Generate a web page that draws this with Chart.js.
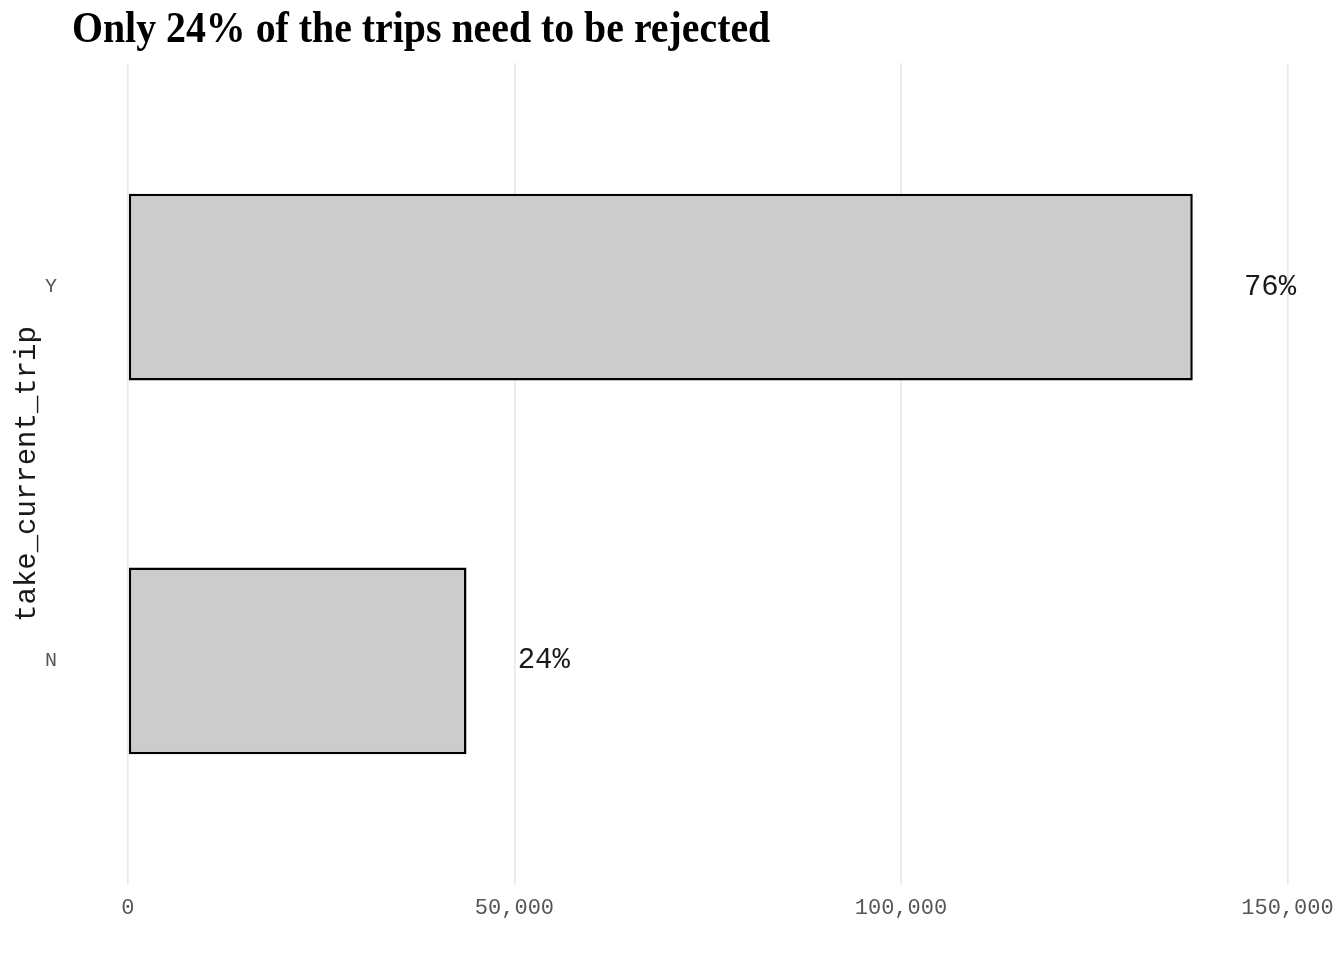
<!DOCTYPE html>
<html>
<head>
<meta charset="utf-8">
<script src="https://cdn.jsdelivr.net/npm/chart.js@4/dist/chart.umd.min.js"></script>
<style>
  html, body { margin: 0; padding: 0; background: #fff; }
  #wrap { width: 1344px; height: 960px; }
</style>
</head>
<body>
<div id="wrap"><canvas id="chart" width="1344" height="960"></canvas></div>
<script>
// --- Data ---
const categories = ['N', 'Y'];            // bottom to top
const tripCounts = [43800, 137750];
const pctLabels = ['24%', '76%'];
const xTicks = [0, 50000, 100000, 150000];
const titleText = 'Only 24% of the trips need to be rejected';
const yTitle = 'take_current_trip';

// --- Helpers ---
const mono = 'Liberation Mono, Courier New, monospace';
const fmt = v => v.toLocaleString('en-US');

// title drawn a bit condensed, like the original
const titlePlugin = {
  id: 'condTitle',
  afterDraw(chart) {
    const ctx = chart.ctx;
    ctx.save();
    ctx.font = 'bold 44px "Liberation Serif", "Times New Roman", serif';
    ctx.fillStyle = '#000';
    ctx.textBaseline = 'alphabetic';
    ctx.translate(chart.chartArea.left + 7, 42);
    ctx.scale(0.905, 1);
    ctx.fillText(titleText, 0, 0);
    ctx.restore();
  }
};

// percentage labels to the right of the bars
const pctPlugin = {
  id: 'pctLabels',
  afterDatasetsDraw(chart) {
    const ctx = chart.ctx, xs = chart.scales.x, ys = chart.scales.y;
    ctx.save();
    ctx.font = '29px ' + mono;
    ctx.fillStyle = '#1a1a1a';
    ctx.textAlign = 'center';
    ctx.textBaseline = 'middle';
    tripCounts.forEach((v, i) => {
      ctx.fillText(pctLabels[i], xs.getPixelForValue(v + 10000), ys.getPixelForValue(i + 1));
    });
    ctx.restore();
  }
};

new Chart(document.getElementById('chart'), {
  type: 'bar',
  data: {
    datasets: [{
      data: tripCounts.map((v, i) => ({ x: v, y: i + 1 })),
      backgroundColor: '#cccccc',
      borderColor: '#000000',
      borderWidth: 2.5,
      borderSkipped: false,
      barPercentage: 0.5,
      categoryPercentage: 1.0
    }]
  },
  options: {
    indexAxis: 'y',
    responsive: false,
    animation: false,
    layout: { padding: { left: 10, right: 10, top: 63, bottom: 0 } },
    plugins: { legend: { display: false }, tooltip: { enabled: false }, title: { display: false } },
    scales: {
      x: {
        type: 'linear',
        min: -8140,
        max: 155555,
        afterBuildTicks: s => { s.ticks = xTicks.map(v => ({ value: v })); },
        afterFit: s => { s.height = 75; },
        grid: { color: '#ebebeb', lineWidth: 1.8, drawTicks: false },
        border: { display: false },
        ticks: { callback: v => fmt(v), color: '#555555', font: { family: mono, size: 22 }, padding: 10, maxRotation: 0 }
      },
      y: {
        type: 'linear',
        offset: false,
        min: 0.4,
        max: 2.6,
        afterBuildTicks: s => { s.ticks = categories.map((c, i) => ({ value: i + 1 })); },
        afterFit: s => { s.width = 55; },
        grid: { display: false, offset: false },
        border: { display: false },
        ticks: { callback: v => categories[v - 1], color: '#555555', font: { family: mono, size: 20 }, padding: 0 },
        title: { display: true, text: yTitle, color: '#1a1a1a', font: { family: mono, size: 29 }, padding: { top: 0, bottom: 0 } }
      }
    }
  },
  plugins: [titlePlugin, pctPlugin]
});
</script>
</body>
</html>
